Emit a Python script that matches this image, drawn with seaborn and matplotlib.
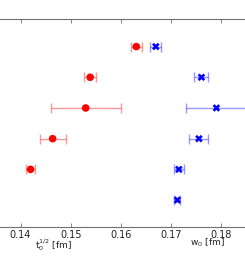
import numpy as np
import pandas as pd
import seaborn as sns
from matplotlib import pyplot as plt

# t0^(1/2) values (rows 1..5 from top), w0 values (rows 1..6)
t0_rows = [1, 2, 3, 4, 5]
t0_vals = [0.1631, 0.1539, 0.1530, 0.1464, 0.1420]
t0_errs = [0.0011, 0.0012, 0.0070, 0.0026, 0.0009]

w0_rows = [1, 2, 3, 4, 5, 6]
w0_vals = [0.1670, 0.1761, 0.1791, 0.1756, 0.1716, 0.1713]
w0_errs = [0.0011, 0.0014, 0.0060, 0.0019, 0.0010, 0.0006]

xticks = [0.14, 0.15, 0.16, 0.17, 0.18]

sns.set_style("white")
plt.rcParams["font.family"] = ["DejaVu Sans"]

df = pd.concat(
    [
        pd.DataFrame({"row": t0_rows, "val": t0_vals, "err": t0_errs, "qty": "t0"}),
        pd.DataFrame({"row": w0_rows, "val": w0_vals, "err": w0_errs, "qty": "w0"}),
    ],
    ignore_index=True,
)

fig = plt.figure(figsize=(2.45, 2.56), dpi=100)
ax = fig.add_axes([0.0, 0.113, 1.0, 0.813])

colors = {"t0": "red", "w0": "blue"}
for qty, sub in df.groupby("qty"):
    ax.errorbar(
        sub["val"], sub["row"], xerr=sub["err"], fmt="none",
        ecolor=colors[qty], alpha=0.4, elinewidth=1.0, capsize=3.5, capthick=1.0,
    )

sns.scatterplot(
    data=df, x="val", y="row", hue="qty", style="qty",
    palette=colors, markers={"t0": "o", "w0": "X"},
    s=30, edgecolor="none", legend=False, ax=ax, zorder=3,
)

ax.set_xlim(0.1359, 0.1848)
ax.set_ylim(6.88, 0.1)
ax.set_xticks(xticks)
ax.set_xticklabels([f"{t:.2f}" for t in xticks], fontsize=7, color="#222222")
ax.set_yticks([])
ax.set_xlabel("")
ax.set_ylabel("")
ax.tick_params(axis="x", direction="in", length=3, width=0.6, color="#707070",
               top=True, bottom=True, pad=2)

for side in ["left", "right"]:
    ax.spines[side].set_visible(False)
for side in ["top", "bottom"]:
    ax.spines[side].set_color("#707070")
    ax.spines[side].set_linewidth(0.8)

fig.text(53 / 245, 1 - 245 / 256, r"t$_0^{1/2}$ [fm]", fontsize=6.5,
         ha="center", va="center", color="#222222")
fig.text(207 / 245, 1 - 243 / 256, r"w$_0$ [fm]", fontsize=6.5,
         ha="center", va="center", color="#222222")

fig.savefig("out.png", dpi=100)
